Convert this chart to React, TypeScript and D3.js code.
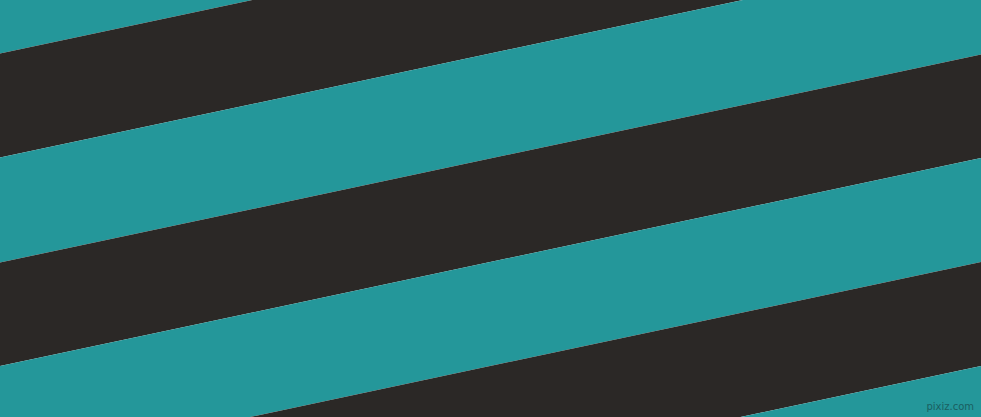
import * as d3 from "d3";
import { FC, useEffect, useRef } from "react";

// stripe edges, read where they meet the left side (x = 0) of the picture
const stripeTops = [-51, 53.5, 157.5, 262.5, 366, 470, 574];
const stripeBottoms = [53.5, 157.5, 262.5, 366, 470, 574, 678];
const stripeKinds = ["teal", "dark", "teal", "dark", "teal", "dark", "teal"];
// how far an edge climbs from left side to right side
const rise = 208;
const watermark = "pixiz.com";

const App: FC = () => {
  const ref = useRef<SVGSVGElement>(null);

  useEffect(() => {
    const width = 981;
    const height = 417;
    const colors: Record<string, string> = { teal: "#24979a", dark: "#2b2826" };

    const svg = d3.select(ref.current);
    svg.selectAll("*").remove();

    // x runs 0..1 across, y is the stripe edge at that fraction
    const xScale = d3.scaleLinear().domain([0, 1]).range([0, width]);
    const yScale = d3.scaleLinear().domain([0, height]).range([0, height]);

    const edgeAt = (y0: number, t: number) => y0 - rise * t;

    const line = d3
      .line<[number, number]>()
      .x((d) => xScale(d[0]))
      .y((d) => yScale(d[1]));

    svg
      .selectAll("path.stripe")
      .data(stripeKinds)
      .enter()
      .append("path")
      .attr("class", "stripe")
      .attr("fill", (d) => colors[d])
      .attr("d", (_, i) => {
        const pts: [number, number][] = [
          [0, edgeAt(stripeTops[i], 0)],
          [1, edgeAt(stripeTops[i], 1)],
          [1, edgeAt(stripeBottoms[i], 1)],
          [0, edgeAt(stripeBottoms[i], 0)],
        ];
        return line(pts) + "Z";
      });

    svg
      .append("text")
      .attr("x", width - 7)
      .attr("y", height - 7)
      .attr("text-anchor", "end")
      .attr("font-family", "DejaVu Sans, sans-serif")
      .attr("font-size", 10)
      .attr("fill", "#1a5f61")
      .text(watermark);
  }, []);

  return (
    <svg
      ref={ref}
      width={981}
      height={417}
      style={{ position: "absolute", left: 0, top: 0, display: "block" }}
    ></svg>
  );
};

export default App;
